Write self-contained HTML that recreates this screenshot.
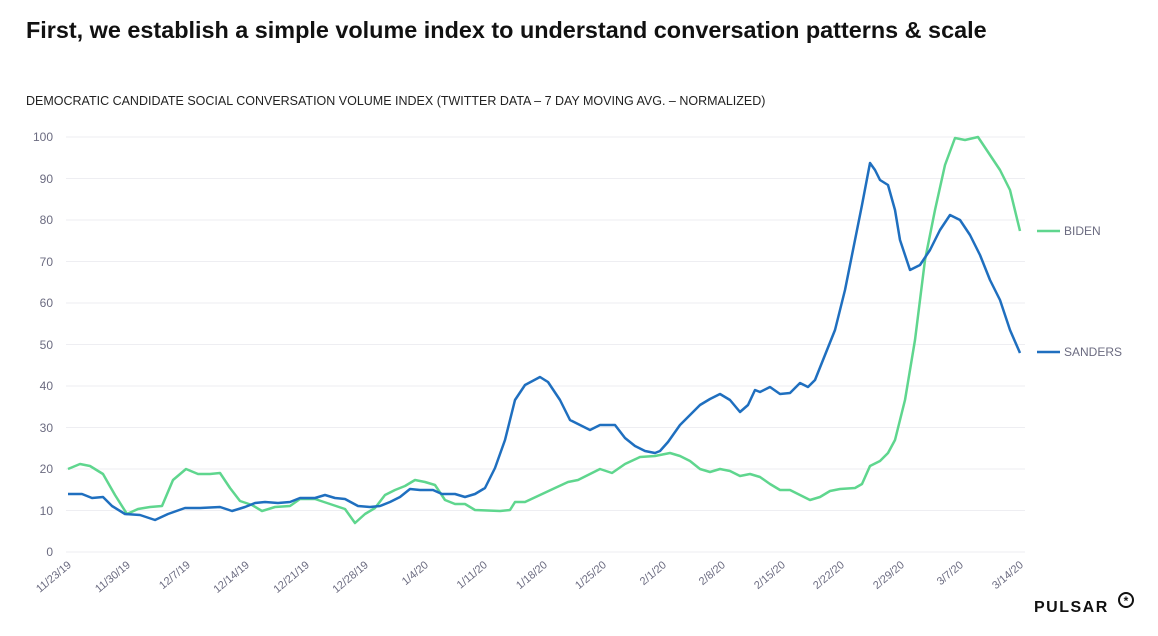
<!DOCTYPE html>
<html><head><meta charset="utf-8"><style>
body{margin:0;background:#fff;width:1158px;height:631px;overflow:hidden;font-family:"Liberation Sans",sans-serif}
</style></head><body>
<svg width="1158" height="631" viewBox="0 0 1158 631" xmlns="http://www.w3.org/2000/svg" font-family="Liberation Sans, sans-serif">
<text x="26" y="38" font-size="23.4" font-weight="bold" fill="#111">First, we establish a simple volume index to understand conversation patterns &amp; scale</text>
<text x="26" y="105" font-size="12.5" fill="#222">DEMOCRATIC CANDIDATE SOCIAL CONVERSATION VOLUME INDEX (TWITTER DATA – 7 DAY MOVING AVG. – NORMALIZED)</text>
<g stroke="#eeeef2" stroke-width="1">
<line x1="66" x2="1025" y1="137" y2="137"/><line x1="66" x2="1025" y1="178.5" y2="178.5"/><line x1="66" x2="1025" y1="220" y2="220"/><line x1="66" x2="1025" y1="261.5" y2="261.5"/><line x1="66" x2="1025" y1="303" y2="303"/><line x1="66" x2="1025" y1="344.5" y2="344.5"/><line x1="66" x2="1025" y1="386" y2="386"/><line x1="66" x2="1025" y1="427.5" y2="427.5"/><line x1="66" x2="1025" y1="469" y2="469"/><line x1="66" x2="1025" y1="510.5" y2="510.5"/><line x1="66" x2="1025" y1="552" y2="552"/>
</g>
<g font-size="12" fill="#6b6b80" text-anchor="end">
<text x="53" y="141">100</text><text x="53" y="183">90</text><text x="53" y="224">80</text><text x="53" y="266">70</text><text x="53" y="307">60</text><text x="53" y="349">50</text><text x="53" y="390">40</text><text x="53" y="432">30</text><text x="53" y="473">20</text><text x="53" y="515">10</text><text x="53" y="556">0</text>
</g>
<g font-size="11" fill="#6b6b80" text-anchor="end">
<text transform="translate(72,566) rotate(-40)">11/23/19</text>
<text transform="translate(131,566) rotate(-40)">11/30/19</text>
<text transform="translate(191,566) rotate(-40)">12/7/19</text>
<text transform="translate(250,566) rotate(-40)">12/14/19</text>
<text transform="translate(310,566) rotate(-40)">12/21/19</text>
<text transform="translate(369,566) rotate(-40)">12/28/19</text>
<text transform="translate(429,566) rotate(-40)">1/4/20</text>
<text transform="translate(488,566) rotate(-40)">1/11/20</text>
<text transform="translate(548,566) rotate(-40)">1/18/20</text>
<text transform="translate(607,566) rotate(-40)">1/25/20</text>
<text transform="translate(667,566) rotate(-40)">2/1/20</text>
<text transform="translate(726,566) rotate(-40)">2/8/20</text>
<text transform="translate(786,566) rotate(-40)">2/15/20</text>
<text transform="translate(845,566) rotate(-40)">2/22/20</text>
<text transform="translate(905,566) rotate(-40)">2/29/20</text>
<text transform="translate(964,566) rotate(-40)">3/7/20</text>
<text transform="translate(1024,566) rotate(-40)">3/14/20</text>
</g>
<polyline fill="none" stroke="#5fd68e" stroke-width="2.5" stroke-linejoin="round" points="68,469 80,464 90,466 103,474 115,495 127,514 138,509 150,507 162,506 173,480 186,469 198,474 210,474 220,473 230,488 240,501 252,505 262,511 275,507 290,506 300,499 315,499 330,504 345,509 355,523 365,514 375,508 385,495 395,490 405,486 415,480 425,482 435,485 445,500 455,504 465,504 475,510 500,511 510,510 515,502 525,502 540,495 555,488 568,482 578,480 590,474 600,469 612,473 625,464 640,457 655,456 670,453 680,456 690,461 700,469 710,472 720,469 730,471 740,476 750,474 760,477 770,484 780,490 790,490 800,495 810,500 820,497 830,491 840,489 855,488 862,484 870,466 880,461 888,453 895,440 905,400 915,340 925,260 935,210 945,165 955,138 965,140 978,137 990,155 1000,170 1010,190 1020,231"/>
<polyline fill="none" stroke="#1f6fbf" stroke-width="2.5" stroke-linejoin="round" points="68,494 82,494 92,498 103,497 112,506 125,514 140,515 155,520 168,514 185,508 200,508 220,507 232,511 245,507 255,503 265,502 278,503 290,502 300,498 315,498 325,495 335,498 345,499 358,506 370,507 380,506 390,502 400,497 410,489 420,490 433,490 442,494 455,494 465,497 475,494 485,488 495,468 505,440 515,400 525,385 540,377 548,382 560,400 570,420 580,425 590,430 600,425 615,425 625,438 635,446 645,451 655,453 660,451 668,442 680,425 690,415 700,405 710,399 720,394 730,400 740,412 748,405 755,390 760,392 770,387 780,394 790,393 800,383 808,387 815,380 825,355 835,330 845,290 855,240 862,205 870,163 875,170 880,180 888,185 895,210 900,240 910,270 920,265 930,250 940,230 950,215 960,220 970,235 980,255 990,280 1000,300 1010,330 1020,353"/>
<line x1="1037" x2="1060" y1="231" y2="231" stroke="#5fd68e" stroke-width="2.5"/>
<text x="1064" y="235" font-size="12" fill="#6b6b80">BIDEN</text>
<line x1="1037" x2="1060" y1="352" y2="352" stroke="#1f6fbf" stroke-width="2.5"/>
<text x="1064" y="356" font-size="12" fill="#6b6b80">SANDERS</text>
<text x="1034" y="612" font-size="16" font-weight="bold" fill="#111" letter-spacing="1.5">PULSAR</text>
<circle cx="1126" cy="600" r="7" fill="none" stroke="#111" stroke-width="2"/>
<text x="1126" y="605" font-size="12" font-weight="bold" text-anchor="middle" fill="#111">*</text>
</svg>
</body></html>
